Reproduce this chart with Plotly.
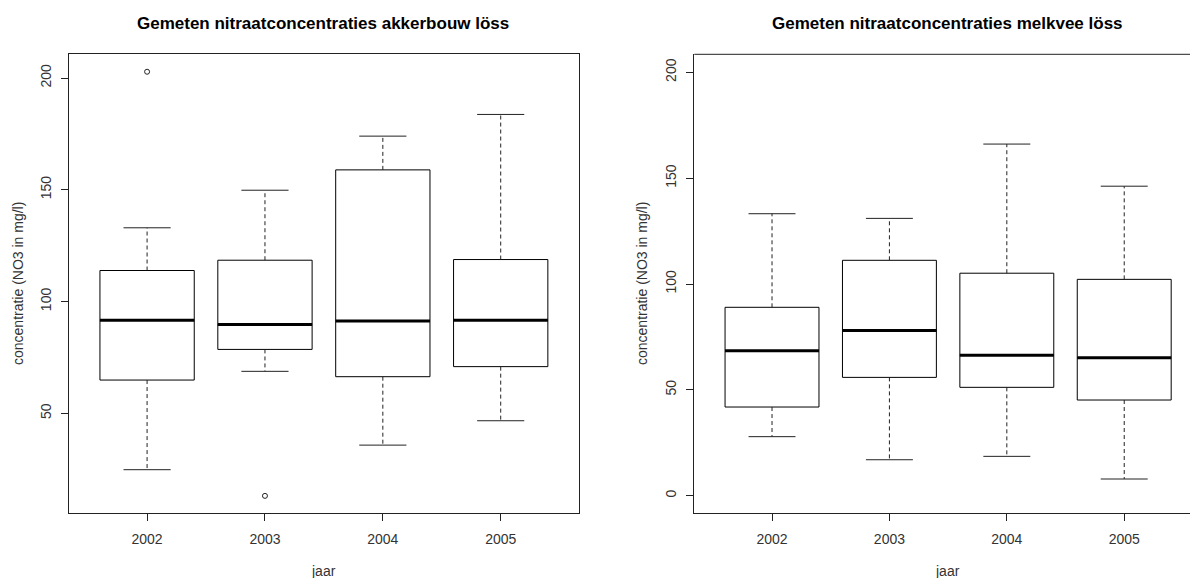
import plotly.graph_objects as go

W, H = 1190, 578

years = ["2002", "2003", "2004", "2005"]

# akkerbouw löss
akk_lower = [24.8, 68.8, 35.8, 46.7]
akk_q1 = [64.9, 78.6, 66.4, 70.9]
akk_median = [91.6, 89.7, 91.3, 91.6]
akk_q3 = [113.9, 118.5, 158.9, 118.8]
akk_upper = [133.0, 149.8, 174.0, 183.7]
akk_outlier_year = ["2002", "2003"]
akk_outlier_val = [202.8, 13.1]

# melkvee löss
mel_lower = [27.9, 17.0, 18.6, 7.9]
mel_q1 = [41.9, 55.9, 51.2, 45.2]
mel_median = [68.5, 78.1, 66.3, 65.2]
mel_q3 = [89.0, 111.2, 105.1, 102.2]
mel_upper = [133.2, 131.0, 166.1, 146.2]

titles = ["Gemeten nitraatconcentraties akkerbouw löss",
          "Gemeten nitraatconcentraties melkvee löss"]
ytitle = "concentratie (NO3 in mg/l)"
xtitle = "jaar"

pos = list(range(1, len(years) + 1))
ypos = {y: p for y, p in zip(years, pos)}

fig = go.Figure()


def add_panel(fig, xa, ya, lower, q1, med, q3, upper, out_years=None, out_vals=None):
    fig.add_trace(go.Box(
        x=pos, q1=q1, median=med, q3=q3, lowerfence=q1, upperfence=q3,
        width=0.8, whiskerwidth=0, boxpoints=False,
        line=dict(color="black", width=1), fillcolor="white",
        xaxis=xa, yaxis=ya, showlegend=False, hoverinfo="skip"))
    # dashed whiskers
    wx, wy = [], []
    for p, lo, a, b, hi in zip(pos, lower, q1, q3, upper):
        wx += [p, p, None, p, p, None]
        wy += [b, hi, None, a, lo, None]
    fig.add_trace(go.Scatter(x=wx, y=wy, mode="lines",
                             line=dict(color="#222", width=1, dash="4px,3px"),
                             xaxis=xa, yaxis=ya, showlegend=False, hoverinfo="skip"))
    # caps
    cx, cy = [], []
    for p, lo, hi in zip(pos, lower, upper):
        cx += [p - 0.2, p + 0.2, None, p - 0.2, p + 0.2, None]
        cy += [hi, hi, None, lo, lo, None]
    fig.add_trace(go.Scatter(x=cx, y=cy, mode="lines",
                             line=dict(color="#222", width=1),
                             xaxis=xa, yaxis=ya, showlegend=False, hoverinfo="skip"))
    # medians
    mx, my = [], []
    for p, m in zip(pos, med):
        mx += [p - 0.4, p + 0.4, None]
        my += [m, m, None]
    fig.add_trace(go.Scatter(x=mx, y=my, mode="lines",
                             line=dict(color="black", width=3),
                             xaxis=xa, yaxis=ya, showlegend=False, hoverinfo="skip"))
    if out_years:
        fig.add_trace(go.Scatter(x=[ypos[y] for y in out_years], y=out_vals, mode="markers",
                                 marker=dict(symbol="circle-open", size=5, color="#222",
                                             line=dict(color="#222", width=1)),
                                 xaxis=xa, yaxis=ya, showlegend=False, hoverinfo="skip"))


add_panel(fig, "x", "y", akk_lower, akk_q1, akk_median, akk_q3, akk_upper,
          akk_outlier_year, akk_outlier_val)
add_panel(fig, "x2", "y2", mel_lower, mel_q1, mel_median, mel_q3, mel_upper)

font_family = "Liberation Sans, Arial, sans-serif"
tickfont = dict(family=font_family, size=14, color="#333")

yb, yt = 513.3, 54.3
ydom = [1 - yb / H, 1 - yt / H]

axis_common = dict(showgrid=False, zeroline=False, showline=True, linecolor="#222",
                   linewidth=1, ticks="outside", ticklen=7, tickcolor="#222",
                   tickfont=tickfont)

fig.update_layout(
    width=W, height=H,
    margin=dict(l=0, r=0, t=0, b=0),
    paper_bgcolor="white", plot_bgcolor="white",
    xaxis=dict(domain=[69.3 / W, 578.5 / W], range=[0.34, 4.66], mirror=True,
               tickvals=pos, ticktext=years, anchor="y", ticklabelstandoff=6, **axis_common),
    yaxis=dict(domain=ydom, range=[5.3, 210.6], mirror=True, tickvals=[50, 100, 150, 200],
               tickangle=-90, anchor="x", ticklabelstandoff=5, **axis_common),
    xaxis2=dict(domain=[694.3 / W, 1.0], range=[0.338, 0.338 + (W - 694.3) / 117.4],
                mirror=False, tickvals=pos, ticktext=years, anchor="y2",
                ticklabelstandoff=6, **axis_common),
    yaxis2=dict(domain=ydom, range=[-8.3, 208.5], mirror=False,
                tickvals=[0, 50, 100, 150, 200], tickangle=-90, anchor="x2",
                ticklabelstandoff=5, **axis_common),
    showlegend=False,
)

# top line for right panel (not right edge)
fig.add_shape(type="line", xref="x2 domain", yref="y2 domain", x0=0, x1=1, y0=1, y1=1,
              line=dict(color="#222", width=1))

ann = [
    dict(text="<b>" + titles[0] + "</b>", x=323 / W, y=1 - 24 / H, size=17, color="black"),
    dict(text="<b>" + titles[1] + "</b>", x=948 / W, y=1 - 24 / H, size=17, color="black"),
    dict(text=xtitle, x=323 / W, y=1 - 571 / H, size=14, color="#333"),
    dict(text=xtitle, x=948 / W, y=1 - 571 / H, size=14, color="#333"),
]
for a in ann:
    fig.add_annotation(text=a["text"], x=a["x"], y=a["y"], xref="paper", yref="paper",
                       showarrow=False, xanchor="center", yanchor="middle",
                       font=dict(family=font_family, size=a["size"], color=a["color"]))
for xp in [18, 642]:
    fig.add_annotation(text=ytitle, x=xp / W, y=1 - 284 / H, xref="paper", yref="paper",
                       showarrow=False, xanchor="center", yanchor="middle", textangle=-90,
                       font=dict(family=font_family, size=14, color="#333"))

fig.write_html("out.html", config={"displayModeBar": False},
               post_script="document.body.style.margin='0';document.body.style.overflow='hidden';")
